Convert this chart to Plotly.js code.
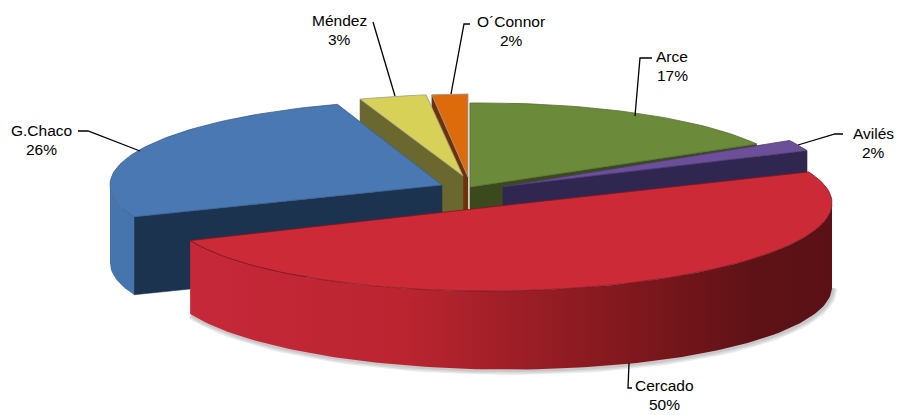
<!DOCTYPE html>
<html>
<head>
<meta charset="utf-8">
<script src="https://cdn.plot.ly/plotly-3.0.1.min.js"></script>
<style>html,body{margin:0;padding:0;background:#fff}#c{width:897px;height:415px}</style>
</head>
<body>
<div id="c"></div>
<script>
// Data (labels show the rounded share)
const categories = ['Arce', 'Avilés', 'Cercado', 'G.Chaco', 'Méndez', 'O´Connor'];
const values = [17.0, 2.0, 49.9, 26.0, 3.3, 1.8];

// Exploded-pie look, one entry per slice
const apexX = [470, 503, 499, 442, 463, 468];
const apexY = [187, 186.5, 206, 185, 176, 177];
const radX  = [327, 327, 333, 332, 327, 320];
const radY  = [84, 90, 85, 85, 82, 83];
const skew  = [-3, -3, -3, 0, -3, -3];
const depth = [80, 80, 78.5, 78, 80, 80];
const wallTilt = [0, 0, 5.5, 0, 0, 0];
const topColor  = ['#6b8a3a', '#6b4f99', '#cb2a36', '#4a78b2', '#d8d158', '#dd6a0b'];
const edgeColor = ['#56702e', '#4c3a70', '#7a1820', '#38608f', '#9a9a90', '#9a9a90'];
const sideColor = ['#3a4a1d', '#2f2750', '#a02028', '#1c3350', '#6b682f', '#6f3206'];
const chordEnd  = ['end', 'end', null, 'start', 'start', 'start'];
const drawOrder = [5, 4, 3, 0, 1, 2];

// Label layout
const labelX = [672, 873, 664, 41, 339, 511];
const nameY = [56, 133, 385.5, 130, 20, 21];
const shareY = [75, 152, 404.5, 149, 39, 40];
const leaderX = [[652, 640, 635], [843, 835, 798], [632, 628, 629], [78, 88, 140], [373, 395], [470, 464, 451]];
const leaderY = [[58, 58, 116], [134, 134, 145], [388, 388, 363], [131, 131, 151], [22, 96], [24, 24, 94]];

const rad = d => d * Math.PI / 180;
const total = values.reduce((a, b) => a + b, 0);
let cum = 0;
const slices = values.map((v, i) => {
  const s = { i, t0: cum / total * 360 };
  cum += v;
  s.t1 = cum / total * 360;
  return s;
});
const px = (i, t) => apexX[i] + radX[i] * Math.sin(rad(t));
const py = (i, t) => apexY[i] - radY[i] * Math.cos(rad(t)) + skew[i] * Math.sin(rad(t));
const wallDepth = (i, t) => depth[i] + wallTilt[i] * Math.sin(rad(t));

function arc(i, a, b) {
  const n = Math.max(2, Math.ceil(Math.abs(b - a) / 1.5));
  const xs = [], ys = [], ts = [];
  for (let k = 0; k <= n; k++) {
    const t = a + (b - a) * k / n;
    xs.push(px(i, t)); ys.push(py(i, t)); ts.push(t);
  }
  return { xs, ys, ts };
}
const base = { type: 'scatter', mode: 'lines', hoverinfo: 'skip', showlegend: false };
const traces = [];

drawOrder.forEach(i => {
  const s = slices[i];
  // soft shadow under the exploded front slice
  if (i === 2) {
    const a = arc(i, 90, s.t1);
    [9, 6, 3].forEach(w => traces.push(Object.assign({}, base, {
      x: a.xs.map(x => x + 1),
      y: a.ys.map((y, k) => y + wallDepth(i, a.ts[k]) + 1),
      line: { color: 'rgba(60,60,60,0.10)', width: w }
    })));
  }
  // flat cut face
  if (chordEnd[i]) {
    const t = chordEnd[i] === 'end' ? s.t1 : s.t0;
    const xa = apexX[i], ya = apexY[i], xb = px(i, t), yb = py(i, t);
    traces.push(Object.assign({}, base, {
      x: [xa, xb, xb, xa, xa], y: [ya, yb, yb + depth[i], ya + depth[i], ya],
      fill: 'toself', fillcolor: sideColor[i], line: { color: sideColor[i], width: 0.5 }
    }));
  }
  // curved outer wall: only the part that faces the viewer
  const a0 = Math.max(s.t0, 90), a1 = Math.min(s.t1, 270);
  if (a1 > a0) {
    const a = arc(i, a0, a1);
    const low = a.ys.map((y, k) => y + wallDepth(i, a.ts[k]));
    const xs = a.xs.concat(a.xs.slice().reverse());
    const ys = a.ys.concat(low.slice().reverse());
    xs.push(xs[0]); ys.push(ys[0]);
    const tr = Object.assign({}, base, { x: xs, y: ys, fill: 'toself', line: { width: 0, color: 'rgba(0,0,0,0)' } });
    if (i === 2) {
      tr.fillgradient = {
        type: 'horizontal',
        colorscale: [[0, '#c6283a'], [0.33, '#bb2530'], [0.66, '#84191f'], [0.88, '#5e1216'], [1, '#5a1015']]
      };
      tr.fillcolor = '#a02028';
    } else {
      tr.fillcolor = '#4675ae';
    }
    traces.push(tr);
  }
  // top face
  const top = arc(i, s.t0, s.t1);
  traces.push(Object.assign({}, base, {
    x: [apexX[i]].concat(top.xs, [apexX[i]]),
    y: [apexY[i]].concat(top.ys, [apexY[i]]),
    fill: 'toself', fillcolor: topColor[i], line: { color: edgeColor[i], width: 0.8 }
  }));
});

// thin light edge beside the first slice
traces.push(Object.assign({}, base, {
  x: [px(0, 0) - 0.5, px(0, 0) - 0.5], y: [py(0, 0), apexY[0] + 21],
  line: { color: '#b0b0b0', width: 1 }
}));

// leaders
categories.forEach((c, i) => traces.push(Object.assign({}, base, {
  x: leaderX[i], y: leaderY[i], line: { color: '#000', width: 1.3 }
})));

const labelFont = { family: '"Liberation Sans", Arial, sans-serif', size: 15.5, color: '#000' };
const annotations = [];
categories.forEach((c, i) => {
  annotations.push({ x: labelX[i], y: nameY[i], xref: 'x', yref: 'y', text: c, showarrow: false,
    xanchor: 'center', yanchor: 'middle', font: labelFont });
  annotations.push({ x: labelX[i], y: shareY[i], xref: 'x', yref: 'y',
    text: Math.round(values[i] / total * 100) + '%', showarrow: false,
    xanchor: 'center', yanchor: 'middle', font: labelFont });
});

Plotly.newPlot('c', traces, {
  width: 897, height: 415,
  margin: { l: 0, r: 0, t: 0, b: 0 },
  paper_bgcolor: '#fff', plot_bgcolor: '#fff',
  showlegend: false,
  xaxis: { range: [0, 897], visible: false, fixedrange: true },
  yaxis: { range: [415, 0], visible: false, fixedrange: true },
  annotations
}, { displayModeBar: false, staticPlot: true });
</script>
</body>
</html>
